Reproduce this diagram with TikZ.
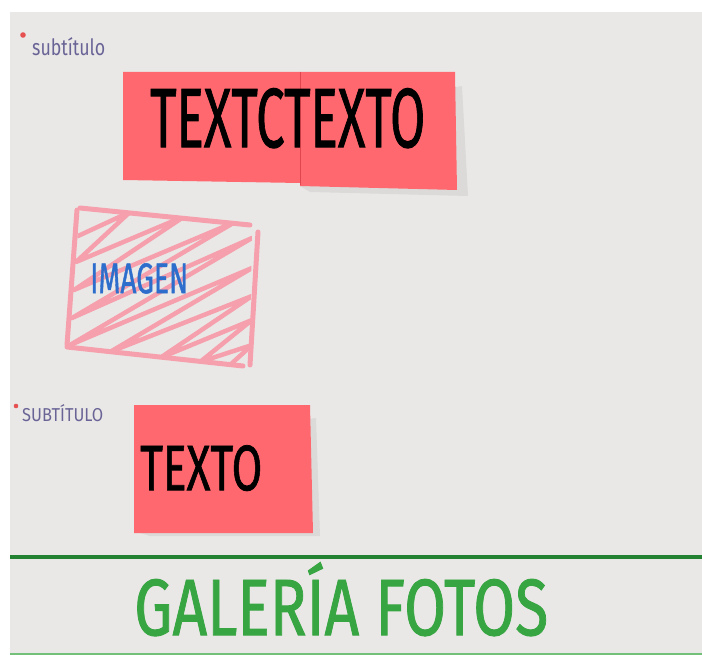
\documentclass[tikz,border=0pt]{standalone}
\usepackage{fontspec}
\usepackage{graphicx}
\setmainfont{Fira Sans}
\newfontfamily\markerfont{Fira Sans}[FakeBold=1.2]
\definecolor{board}{RGB}{234,232,231}
\definecolor{sticky}{RGB}{255,104,110}
\definecolor{stickyline}{RGB}{225,70,80}
\definecolor{pinkmark}{RGB}{245,160,172}
\definecolor{bluemark}{RGB}{45,110,205}
\definecolor{greenmark}{RGB}{55,165,65}
\definecolor{greenline}{RGB}{35,130,50}
\definecolor{pen}{RGB}{105,100,150}
\definecolor{reddot}{RGB}{230,80,80}
\tikzset{
  note/.style={fill=sticky, draw=none},
  shade/.style={fill=black, opacity=0.06, draw=none},
  frame/.style={draw=pinkmark, line width=5pt, line cap=round},
  scribble/.style={draw=pinkmark, line width=4.5pt, line cap=round, line join=round},
  label/.style={inner sep=0pt, anchor=north west},
}
\begin{document}
\begin{tikzpicture}[x=1pt,y=-1pt]
\useasboundingbox (0,0) rectangle (702,655);
\fill[white] (0,0) rectangle (702,655);
\fill[board] (10,12) rectangle (702,655);
% first subtitle
\fill[reddot] (23,35) circle (2.8pt);
\node[label, text=pen] (sub1) at (32,37) {\resizebox{73pt}{18pt}{subtítulo}};
% sticky notes pair
\fill[shade] (440,90) -- (462,86) -- (468,196) -- (310,192) -- (300,186) -- cycle;
\fill[note] (123,72) -- (300,72) -- (300,183) -- (123,180) -- cycle;
\fill[note] (300,72) -- (455,72) -- (457,190) -- (300,186) -- cycle;
\draw[stickyline, line width=0.8pt] (300,72) -- (300,185);
\node[label] (t1) at (150,88) {\resizebox{275pt}{59pt}{\markerfont TEXTCTEXTO}};
% image placeholder
\begin{scope}
\clip (80,210) -- (252,226) -- (250,365) -- (67,348) -- cycle;
\draw[scribble] (78,236) -- (130,212) -- (76,262) -- (185,216) -- (74,290) -- (235,222)
  -- (72,318) -- (252,238) -- (70,345) -- (252,268) -- (110,352) -- (252,296)
  -- (160,358) -- (252,320) -- (200,362) -- (252,345) -- (230,365);
\end{scope}
\draw[frame] (80,208) -- (250,225);
\draw[frame] (258,232) -- (250,365);
\draw[frame] (67,347) -- (243,366);
\draw[frame] (77,210) -- (67,345);
\node[label, text=bluemark] (img) at (90,263) {\resizebox{98pt}{30pt}{\markerfont IMAGEN}};
% second subtitle
\fill[reddot] (16,406) circle (2.3pt);
\node[label, text=pen] (sub2) at (22,404) {\resizebox{81pt}{17pt}{SUBTÍTULO}};
% single sticky note
\fill[shade] (300,420) -- (316,418) -- (320,536) -- (150,536) -- (140,533) -- cycle;
\fill[note] (134,405) -- (310,405) -- (313,533) -- (134,533) -- cycle;
\node[label] (t2) at (140,445) {\resizebox{122pt}{45pt}{\markerfont TEXTO}};
% footer
\draw[greenline, line width=4pt] (10,557) -- (702,557);
\draw[greenmark!70, line width=2pt] (10,654) -- (702,654);
\node[label, text=greenmark] (title) at (134,562) {\resizebox{414pt}{73pt}{\markerfont GALERÍA FOTOS}};
\end{tikzpicture}
\end{document}
